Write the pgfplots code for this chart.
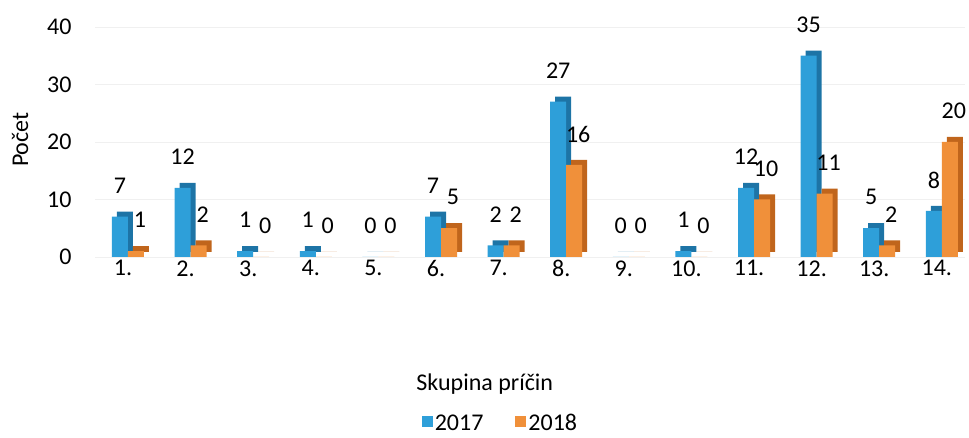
\documentclass[border=0pt]{standalone}
\usepackage{pgfplots}
\pgfplotsset{compat=1.18}
\usepackage{fontspec}
\setmainfont{Carlito}
\definecolor{cblue}{HTML}{2E9FD9}
\definecolor{cblueD}{HTML}{1D74A6}
\definecolor{corange}{HTML}{F0903A}
\definecolor{corangeD}{HTML}{C0651C}
\begin{document}
\begin{tikzpicture}
\path[use as bounding box] (-95pt,-181pt) rectangle (874pt,257pt);
\begin{axis}[
  ybar, bar width=16pt,
  at={(0pt,0pt)}, anchor=south west,
  scale only axis, width=870pt, height=230pt,
  xmin=0.473, xmax=14.37, ymin=0, ymax=40,
  ytick={0,10,20,30,40},
  xtick={1,...,14},
  xticklabels={1.,2.,3.,4.,5.,6.,7.,8.,9.,10.,11.,12.,13.,14.},
  axis line style={draw=none},
  major tick length=0pt,
  ymajorgrids, grid style={gray!12},
  font=\fontsize{24}{28}\selectfont,
  /pgf/number format/assume math mode=true,
  xticklabel style={xshift=-5pt},
  yticklabel style={xshift=-20pt},
  ylabel={Počet},
  ylabel style={at={(rel axis cs:0,0.51)}, yshift=75pt, anchor=center},
  xlabel={Skupina príčin},
  xlabel style={at={(rel axis cs:0.448,0)}, yshift=-127pt, anchor=center},
  legend columns=2,
  legend style={at={(rel axis cs:0.466,0)}, yshift=-166pt, anchor=center, draw=none, fill=none,
    inner sep=0pt,
    /tikz/every even column/.append style={column sep=30pt}},
  legend image code/.code={\fill[#1] (0pt,-4pt) rectangle (11pt,7pt);},
  clip=false,
]
% shadows (3D depth)
\addplot[forget plot, fill=cblueD, draw=none, bar shift=-3pt, yshift=5pt] coordinates {(1,7)(2,12)(3,1)(4,1)(5,0)(6,7)(7,2)(8,27)(9,0)(10,1)(11,12)(12,35)(13,5)(14,8)};
\addplot[fill=cblue, draw=none, bar shift=-8pt,
  nodes near coords, nodes near coords style={anchor=center, yshift=31pt, text=black}] coordinates {(1,7)(2,12)(3,1)(4,1)(5,0)(6,7)(7,2)(8,27)(9,0)(10,1)(11,12)(12,35)(13,5)(14,8)};
\addplot[forget plot, fill=corangeD, draw=none, bar shift=13pt, yshift=5pt] coordinates {(1,1)(2,2)(3,0)(4,0)(5,0)(6,5)(7,2)(8,16)(9,0)(10,0)(11,10)(12,11)(13,2)(14,20)};
\addplot[fill=corange, draw=none, bar shift=8pt,
  nodes near coords, nodes near coords style={anchor=center, yshift=31pt, xshift=4pt, text=black}] coordinates {(1,1)(2,2)(3,0)(4,0)(5,0)(6,5)(7,2)(8,16)(9,0)(10,0)(11,10)(12,11)(13,2)(14,20)};
\legend{2017,2018}
\end{axis}
\end{tikzpicture}
\end{document}
